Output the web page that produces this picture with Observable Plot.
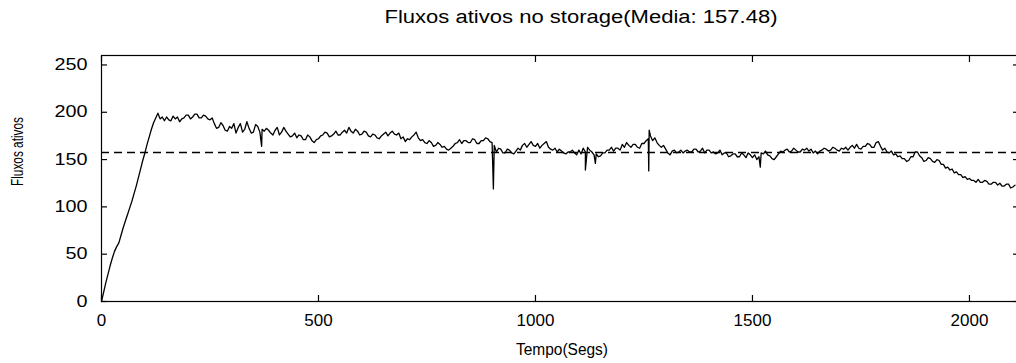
<!DOCTYPE html>
<html>
<head>
<meta charset="utf-8">
<script src="https://cdn.jsdelivr.net/npm/d3@7"></script>
<script src="https://cdn.jsdelivr.net/npm/@observablehq/plot@0.6"></script>
<style>
  html, body { margin: 0; padding: 0; background: white; }
</style>
</head>
<body>
<div id="chart"></div>
<script>
const title = "Fluxos ativos no storage(Media: 157.48)";
const xLabel = "Tempo(Segs)";
const yLabel = "Fluxos ativos";
const mean = 157.48;
const xTicks = [0, 500, 1000, 1500, 2000];
const yTicks = [0, 50, 100, 150, 200, 250];

// active flows, one sample every 5 seconds starting at t = 0
const sampleStep = 5;
const flows = [
  0, 10, 20, 29, 38, 46, 53, 58, 62, 70,
  78, 85, 92, 99, 106, 114, 122, 131, 140, 149,
  157, 166, 174, 182, 189, 194, 199, 193, 195, 191,
  195, 192, 191, 196, 193, 195, 190, 193, 194, 197,
  197, 193, 195, 198, 198, 194, 194, 197, 196, 193,
  192, 194, 188, 183, 184, 189, 186, 181, 180, 185,
  183, 188, 178, 184, 188, 179, 182, 190, 183, 178,
  179, 187, 185, 179, 182, 180, 183, 181, 178, 176,
  181, 184, 176, 179, 184, 180, 177, 174, 175, 178,
  173, 176, 175, 171, 171, 176, 174, 170, 168, 171,
  172, 175, 176, 179, 178, 174, 175, 177, 180, 176,
  176, 179, 181, 178, 184, 180, 178, 182, 180, 176,
  177, 180, 179, 175, 174, 177, 176, 173, 172, 175,
  177, 179, 175, 178, 180, 177, 176, 178, 172, 174,
  169, 172, 171, 174, 176, 179, 173, 170, 171, 168,
  167, 170, 168, 164, 165, 168, 166, 163, 164, 161,
  160, 162, 164, 167, 168, 171, 167, 170, 170, 168,
  168, 172, 171, 167, 167, 170, 170, 173, 172, 169,
  168, 165, 158, 162, 161, 157, 157, 161, 160, 157,
  156, 159, 162, 160, 165, 167, 163, 166, 169, 165,
  164, 167, 162, 165, 167, 169, 163, 161, 160, 162,
  158, 161, 159, 157, 156, 158, 158, 160, 157, 155,
  160, 156, 162, 158, 163, 160, 158, 155, 156, 153,
  154, 157, 157, 160, 160, 163, 159, 162, 162, 160,
  166, 163, 168, 165, 163, 166, 166, 163, 162, 167,
  167, 170, 172, 175, 170, 173, 168, 165, 163, 165,
  161, 157, 155, 159, 160, 157, 158, 160, 157, 159,
  160, 158, 158, 161, 161, 158, 159, 162, 157, 160,
  160, 157, 158, 156, 157, 160, 155, 157, 157, 153,
  154, 156, 156, 153, 153, 157, 155, 152, 157, 155,
  152, 155, 150, 153, 157, 156, 159, 155, 154, 151,
  150, 153, 156, 159, 158, 160, 161, 158, 159, 162,
  160, 158, 158, 161, 160, 162, 159, 161, 157, 159,
  156, 159, 160, 162, 161, 159, 160, 163, 162, 160,
  159, 162, 161, 163, 160, 163, 165, 162, 166, 162,
  161, 164, 164, 167, 166, 163, 163, 168, 169, 164,
  160, 162, 158, 157, 159, 155, 156, 153, 154, 151,
  151, 148, 149, 153, 153, 158, 158, 154, 152, 148,
  149, 152, 151, 148, 147, 150, 149, 145, 145, 141,
  142, 139, 140, 136, 137, 134, 134, 131, 132, 129,
  130, 128, 128, 126, 129, 126, 126, 128, 127, 124,
  124, 126, 126, 123, 125, 122, 122, 124, 124, 120,
  121, 123
];

// isolated one-sample spikes seen in the trace
const spikeTimes = [369, 903, 1115, 1138, 1261, 1262, 1518];
const spikeFlows = [164, 119, 139, 146, 138, 181, 142];

const data = flows.map((v, i) => ({t: i * sampleStep, v}))
  .concat(spikeTimes.map((t, i) => ({t, v: spikeFlows[i]})))
  .sort((a, b) => a.t - b.t);

const chart = Plot.plot({
  width: 1016,
  height: 363,
  marginLeft: 101,
  marginRight: -2,
  marginTop: 55,
  marginBottom: 62,
  style: {fontFamily: "'Liberation Sans', Arial, sans-serif", fontSize: "17px", background: "white", color: "black"},
  x: {domain: [0, 2113]},
  y: {domain: [0, 260]},
  marks: [
    Plot.frame({stroke: "black", strokeWidth: 1.2}),
    Plot.ruleY([mean], {stroke: "black", strokeWidth: 1.7, strokeDasharray: "8,5"}),
    Plot.line(data, {x: "t", y: "v", stroke: "black", strokeWidth: 1.3}),
    Plot.axisX(xTicks, {anchor: "bottom", tickSize: -6, tickPadding: 18, tickFormat: d => String(d), label: null, strokeWidth: 1.2, ariaLabel: "x-axis"}),
    Plot.axisX(xTicks, {anchor: "top", tickSize: -6, tickFormat: () => "", label: null, strokeWidth: 1.2}),
    Plot.axisY(yTicks, {anchor: "left", tickSize: -6, tickPadding: 20, tickFormat: d => String(d), label: null, strokeWidth: 1.2, fontSize: 16, ariaLabel: "y-axis"}),
    Plot.axisY(yTicks, {anchor: "right", tickSize: -6, tickFormat: () => "", label: null, strokeWidth: 1.2}),
    Plot.text([title], {frameAnchor: "top", lineAnchor: "middle", dx: 21, dy: -38, fontSize: 18, fill: "black"}),
    Plot.text([xLabel], {frameAnchor: "bottom", lineAnchor: "middle", dx: 2, dy: 48, fontSize: 16, fill: "black"}),
    Plot.text([yLabel], {frameAnchor: "left", textAnchor: "middle", lineAnchor: "middle", rotate: -90, dx: -84, dy: -27, fontSize: 16, fill: "black"})
  ]
});
document.getElementById("chart").appendChild(chart);

// stretch texts horizontally to the widths seen in the reference
const svg = d3.select(chart);
svg.selectAll("text").each(function() {
  const el = d3.select(this);
  const s = this.textContent;
  if (s === title) el.attr("textLength", 393).attr("lengthAdjust", "spacingAndGlyphs");
  else if (s === xLabel) el.attr("textLength", 92).attr("lengthAdjust", "spacingAndGlyphs");
  else if (s === yLabel) el.attr("textLength", 69).attr("lengthAdjust", "spacingAndGlyphs");
});
svg.selectAll("g[aria-label='y-axis tick label'] text").each(function() {
  const n = this.textContent.length;
  d3.select(this).attr("textLength", 11 * n).attr("lengthAdjust", "spacingAndGlyphs");
});
</script>
</body>
</html>
